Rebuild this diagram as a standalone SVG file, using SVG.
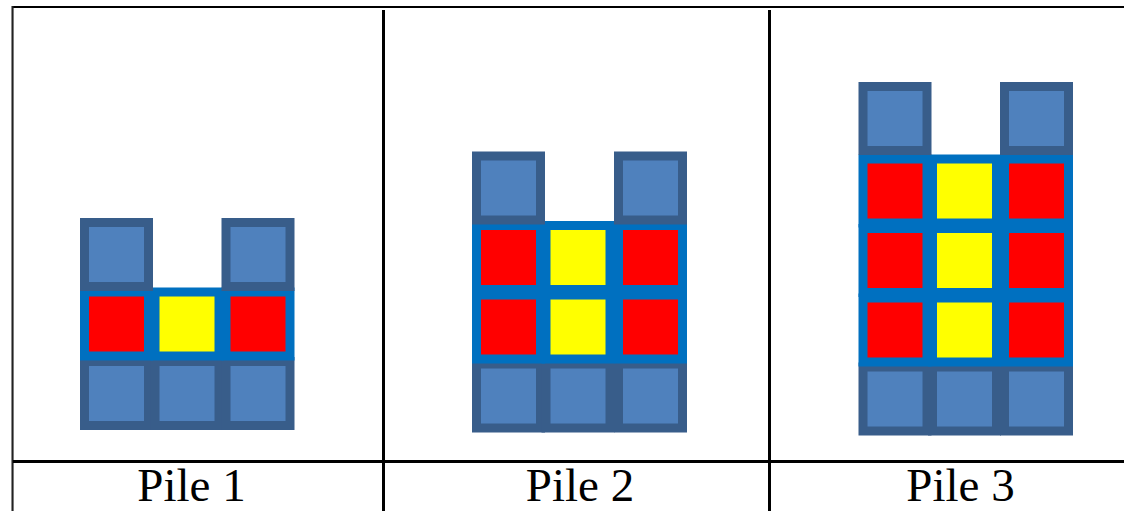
<svg xmlns="http://www.w3.org/2000/svg" width="1124" height="511" viewBox="0 0 1124 511">
<style>
.d{fill:#4F81BD;stroke:#385D8A;stroke-width:9}
.r{fill:#FF0000;stroke:#0070C0;stroke-width:9}
.y{fill:#FFFF00;stroke:#0070C0;stroke-width:9}
.ln{stroke:#000;fill:none}
.lbl{font-family:"Liberation Serif","Times New Roman",serif;font-size:47px;fill:#000;text-anchor:middle}
</style>
<rect width="1124" height="511" fill="#fff"/>
<g id="table">
<line class="ln" x1="11" y1="7" x2="1124" y2="7" stroke-width="2"/>
<line x1="11.5" y1="6" x2="11.5" y2="511" stroke="#8a8a8a" stroke-width="1"/>
<line x1="12.8" y1="6" x2="12.8" y2="511" stroke="#222" stroke-width="1.6"/>
<line class="ln" x1="383.5" y1="10" x2="383.5" y2="511" stroke-width="3"/>
<line class="ln" x1="769.5" y1="10" x2="769.5" y2="511" stroke-width="3"/>
<line class="ln" x1="13" y1="461.5" x2="1124" y2="461.5" stroke-width="3"/>
</g>
<g id="pile1">
<rect class="d" x="84.5" y="361.5" width="64" height="64"/>
<rect class="d" x="155" y="361.5" width="64" height="64"/>
<rect class="d" x="226" y="361.5" width="64" height="64"/>
<rect class="r" x="84.5" y="292" width="64" height="64"/>
<rect class="y" x="155" y="292" width="64" height="64"/>
<rect class="r" x="226" y="292" width="64" height="64"/>
<rect class="d" x="84.5" y="222.5" width="64" height="64"/>
<rect class="d" x="226" y="222.5" width="64" height="64"/>
</g>
<g id="pile2">
<rect class="d" x="476.5" y="364" width="64" height="64"/>
<rect class="d" x="546" y="364" width="64" height="64"/>
<rect class="d" x="618.5" y="364" width="64" height="64"/>
<rect class="r" x="476.5" y="295" width="64" height="64"/>
<rect class="y" x="546" y="295" width="64" height="64"/>
<rect class="r" x="618.5" y="295" width="64" height="64"/>
<rect class="r" x="476.5" y="225.5" width="64" height="64"/>
<rect class="y" x="546" y="225.5" width="64" height="64"/>
<rect class="r" x="618.5" y="225.5" width="64" height="64"/>
<rect class="d" x="476.5" y="156" width="64" height="64"/>
<rect class="d" x="618.5" y="156" width="64" height="64"/>
</g>
<g id="pile3">
<rect class="d" x="863" y="367" width="64" height="64"/>
<rect class="d" x="932.5" y="367" width="64" height="64"/>
<rect class="d" x="1004.5" y="367" width="64" height="64"/>
<rect class="r" x="863" y="298" width="64" height="64"/>
<rect class="y" x="932.5" y="298" width="64" height="64"/>
<rect class="r" x="1004.5" y="298" width="64" height="64"/>
<rect class="r" x="863" y="228.5" width="64" height="64"/>
<rect class="y" x="932.5" y="228.5" width="64" height="64"/>
<rect class="r" x="1004.5" y="228.5" width="64" height="64"/>
<rect class="r" x="863" y="159" width="64" height="64"/>
<rect class="y" x="932.5" y="159" width="64" height="64"/>
<rect class="r" x="1004.5" y="159" width="64" height="64"/>
<rect class="d" x="863" y="86.5" width="64" height="64"/>
<rect class="d" x="1004.5" y="86.5" width="64" height="64"/>
</g>
<g id="labels">
<text class="lbl" x="191.5" y="500.5">Pile 1</text>
<text class="lbl" x="580" y="500.5">Pile 2</text>
<text class="lbl" x="960.5" y="500.5">Pile 3</text>
</g>
</svg>
